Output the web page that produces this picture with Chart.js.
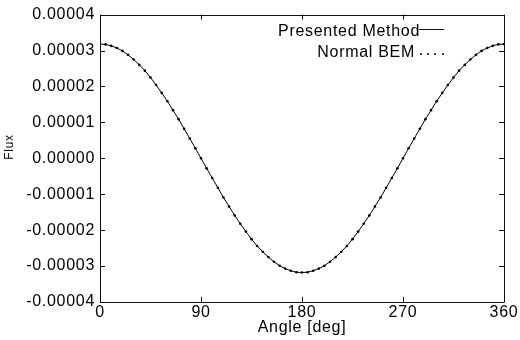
<!DOCTYPE html>
<html>
<head>
<meta charset="utf-8">
<script src="https://cdn.jsdelivr.net/npm/chart.js@4.4.0/dist/chart.umd.min.js"></script>
<style>
  html, body { margin: 0; padding: 0; background: #fff; }
  #wrap { width: 520px; height: 340px; }
</style>
</head>
<body>
<div id="wrap"><canvas id="chart" width="520" height="340"></canvas></div>
<script>
// angle in degrees, every 5 deg
let angles = [0, 5, 10, 15, 20, 25, 30, 35, 40, 45, 50, 55, 60, 65, 70, 75, 80, 85, 90,
  95, 100, 105, 110, 115, 120, 125, 130, 135, 140, 145, 150, 155, 160, 165, 170, 175, 180,
  185, 190, 195, 200, 205, 210, 215, 220, 225, 230, 235, 240, 245, 250, 255, 260, 265, 270,
  275, 280, 285, 290, 295, 300, 305, 310, 315, 320, 325, 330, 335, 340, 345, 350, 355, 360];

// flux
let presentedFlux = [3.18e-5, 3.17e-5, 3.13e-5, 3.07e-5, 2.99e-5, 2.88e-5, 2.75e-5, 2.60e-5, 2.44e-5, 2.25e-5,
  2.04e-5, 1.82e-5, 1.59e-5, 1.34e-5, 1.09e-5, 0.82e-5, 0.55e-5, 0.28e-5, 0,
  -0.28e-5, -0.55e-5, -0.82e-5, -1.09e-5, -1.34e-5, -1.59e-5, -1.82e-5, -2.04e-5, -2.25e-5,
  -2.44e-5, -2.60e-5, -2.75e-5, -2.88e-5, -2.99e-5, -3.07e-5, -3.13e-5, -3.17e-5, -3.18e-5,
  -3.17e-5, -3.13e-5, -3.07e-5, -2.99e-5, -2.88e-5, -2.75e-5, -2.60e-5, -2.44e-5, -2.25e-5,
  -2.04e-5, -1.82e-5, -1.59e-5, -1.34e-5, -1.09e-5, -0.82e-5, -0.55e-5, -0.28e-5, 0,
  0.28e-5, 0.55e-5, 0.82e-5, 1.09e-5, 1.34e-5, 1.59e-5, 1.82e-5, 2.04e-5, 2.25e-5,
  2.44e-5, 2.60e-5, 2.75e-5, 2.88e-5, 2.99e-5, 3.07e-5, 3.13e-5, 3.17e-5, 3.18e-5];
let bemFlux = presentedFlux.slice();

let xTicks = [0, 90, 180, 270, 360];
let yTicks = [-4e-5, -3e-5, -2e-5, -1e-5, 0, 1e-5, 2e-5, 3e-5, 4e-5];

let font = "'Liberation Sans', Arial, sans-serif";

function pts(xs, ys) {
  return xs.map((x, i) => ({ x: x, y: ys[i] }));
}

// gnuplot style frame, inward ticks, legend and y title
let framePlugin = {
  id: 'frame',
  beforeDraw(chart) {
    // the original text is a bit wider than plain Liberation Sans
    chart.ctx.letterSpacing = '0.7px';
  },
  afterDraw(chart) {
    let ctx = chart.ctx;
    let a = chart.chartArea;
    let xs = chart.scales.x, ys = chart.scales.y;
    let tl = 5;
    ctx.save();
    ctx.strokeStyle = '#111';
    ctx.lineWidth = 1;
    ctx.beginPath();
    ctx.rect(Math.round(a.left) + 0.5, Math.round(a.top) + 0.5,
      Math.round(a.right - a.left), Math.round(a.bottom - a.top));
    xTicks.forEach(v => {
      let px = Math.round(xs.getPixelForValue(v)) + 0.5;
      ctx.moveTo(px, a.bottom); ctx.lineTo(px, a.bottom - tl);
      ctx.moveTo(px, a.top); ctx.lineTo(px, a.top + tl);
    });
    yTicks.forEach(v => {
      let py = Math.round(ys.getPixelForValue(v)) + 0.5;
      ctx.moveTo(a.left, py); ctx.lineTo(a.left + tl, py);
      ctx.moveTo(a.right, py); ctx.lineTo(a.right - tl, py);
    });
    ctx.stroke();

    // legend
    ctx.fillStyle = '#000';
    ctx.font = '16px ' + font;
    ctx.textAlign = 'right';
    ctx.textBaseline = 'alphabetic';
    ctx.fillText('Presented Method', 420, 36);
    ctx.fillText('Normal BEM', 415, 57);
    ctx.beginPath();
    ctx.moveTo(419, 29.5); ctx.lineTo(444, 29.5);
    ctx.stroke();
    [421, 428, 435, 443].forEach(x => {
      ctx.beginPath();
      ctx.arc(x, 54, 1, 0, Math.PI * 2);
      ctx.fill();
    });

    // y axis title
    ctx.font = '12px ' + font;
    ctx.textAlign = 'center';
    ctx.textBaseline = 'middle';
    ctx.translate(10, 147);
    ctx.rotate(-Math.PI / 2);
    ctx.fillText('Flux', 0, 0);
    ctx.restore();
  }
};

new Chart(document.getElementById('chart'), {
  type: 'scatter',
  data: {
    datasets: [{
      label: 'Presented Method',
      data: pts(angles, presentedFlux),
      showLine: true,
      borderColor: '#000',
      borderWidth: 1,
      pointRadius: 0,
      tension: 0
    }, {
      label: 'Normal BEM',
      data: pts(angles, bemFlux),
      showLine: false,
      backgroundColor: '#000',
      borderColor: '#000',
      pointRadius: 1.3,
      pointBorderWidth: 0
    }]
  },
  options: {
    responsive: false,
    animation: false,
    layout: { padding: { left: 0, right: 16, top: 14, bottom: 3 } },
    plugins: { legend: { display: false }, tooltip: { enabled: false } },
    scales: {
      x: {
        type: 'linear',
        min: 0,
        max: 360,
        afterBuildTicks: s => { s.ticks = xTicks.map(v => ({ value: v })); },
        afterFit: s => { s.height = 35; },
        ticks: { color: '#000', font: { family: font, size: 16 }, padding: 1, maxRotation: 0 },
        grid: { drawOnChartArea: false, drawTicks: false },
        border: { display: false },
        title: { display: true, text: 'Angle [deg]', color: '#000', font: { family: font, size: 16 }, padding: 0 }
      },
      y: {
        min: -4e-5,
        max: 4e-5,
        afterBuildTicks: s => { s.ticks = yTicks.map(v => ({ value: v })); },
        afterFit: s => { s.width = 100; },
        ticks: {
          color: '#000',
          font: { family: font, size: 16 },
          padding: 5,
          callback: v => (Math.round(v * 1e5) / 1e5).toFixed(5)
        },
        grid: { drawOnChartArea: false, drawTicks: false },
        border: { display: false }
      }
    }
  },
  plugins: [framePlugin]
});
</script>
</body>
</html>
